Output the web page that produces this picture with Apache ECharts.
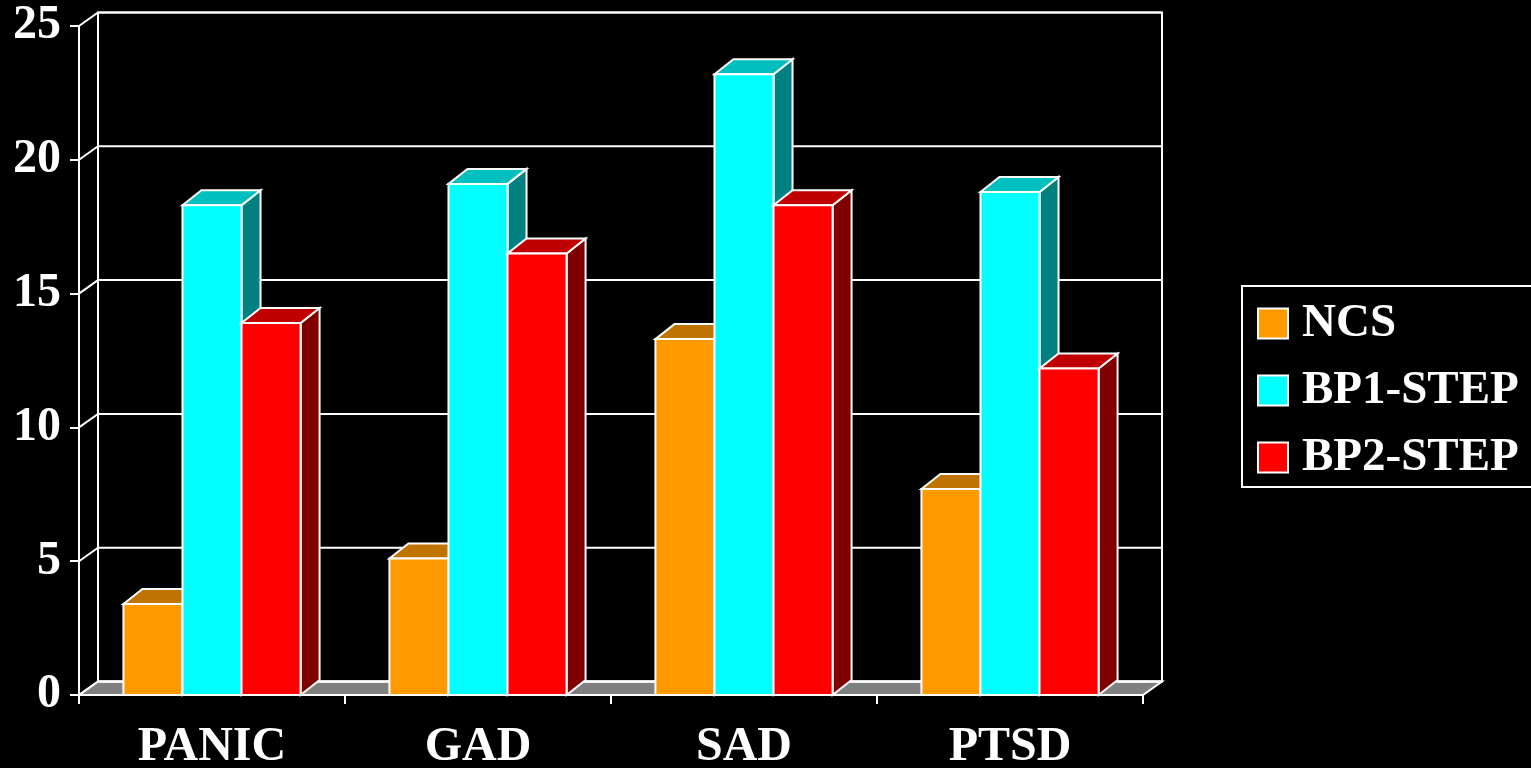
<!DOCTYPE html>
<html>
<head>
<meta charset="utf-8">
<title>Anxiety disorders by group</title>
<script src="https://cdn.jsdelivr.net/npm/echarts@6/dist/echarts.min.js"></script>
<style>
  html, body { margin: 0; padding: 0; background: #000; }
  #chart { width: 1531px; height: 768px; }
</style>
</head>
<body>
<div id="chart"></div>
<script>
// Categories, groups and values (percent)
const categories = ['PANIC', 'GAD', 'SAD', 'PTSD'];
const seriesNames = ['NCS', 'BP1-STEP', 'BP2-STEP'];
const ncs = [3.4, 5.1, 13.3, 7.7];
const bp1 = [18.3, 19.1, 23.2, 18.8];
const bp2 = [13.9, 16.5, 18.3, 12.2];
const yTicks = [0, 5, 10, 15, 20, 25];

// Face colours: front, top, side
const palette = [
  { front: '#FF9900', top: '#BF7300', side: '#804C00' },
  { front: '#00FFFF', top: '#00BFBF', side: '#008080' },
  { front: '#FF0000', top: '#C00000', side: '#800000' }
];

// Pseudo-3D depth offsets
const WALL_DX = 19, WALL_DY = -13.5;
const BAR_DX = 19, BAR_DY = -15;
const BAR_SHARE = 0.222; // width of one bar as a share of a category band

const FONT = 'Liberation Serif';
const edge = { stroke: '#fff', lineWidth: 2, lineJoin: 'miter' };

// Floor, back wall and left-wall gridlines
function renderWalls(params, api) {
  const band = api.size([1, 0])[0];
  const left = api.coord([0, 0])[0] - band / 2;
  const right = api.coord([categories.length - 1, 0])[0] + band / 2;
  const y0 = api.coord([0, yTicks[0]])[1];
  const yTop = api.coord([0, yTicks[yTicks.length - 1]])[1];
  const children = [];
  children.push({
    type: 'polygon',
    shape: { points: [[left, y0], [right, y0], [right + WALL_DX, y0 + WALL_DY], [left + WALL_DX, y0 + WALL_DY]] },
    style: Object.assign({ fill: '#808080' }, edge)
  });
  children.push({
    type: 'rect',
    shape: { x: left + WALL_DX, y: yTop + WALL_DY, width: right - left, height: y0 - yTop },
    style: Object.assign({ fill: 'none' }, edge)
  });
  yTicks.forEach(function (v) {
    const y = api.coord([0, v])[1];
    children.push({
      type: 'polyline',
      shape: { points: [[left, y], [left + WALL_DX, y + WALL_DY], [right + WALL_DX, y + WALL_DY]] },
      style: Object.assign({ fill: 'none' }, edge)
    });
  });
  return { type: 'group', children: children };
}

// One 3D bar: side, top and front faces
function makeBarRenderer(slot) {
  return function (params, api) {
    const cat = api.value(0);
    const val = api.value(1);
    const band = api.size([1, 0])[0];
    const w = band * BAR_SHARE;
    const top = api.coord([cat, val]);
    const base = api.coord([cat, 0]);
    const x0 = top[0] - 1.5 * w + slot * w;
    const x1 = x0 + w;
    const yT = top[1], yB = base[1];
    const c = palette[slot];
    return {
      type: 'group',
      children: [
        {
          type: 'polygon',
          shape: { points: [[x1, yT], [x1 + BAR_DX, yT + BAR_DY], [x1 + BAR_DX, yB + BAR_DY], [x1, yB]] },
          style: Object.assign({ fill: c.side }, edge)
        },
        {
          type: 'polygon',
          shape: { points: [[x0, yT], [x0 + BAR_DX, yT + BAR_DY], [x1 + BAR_DX, yT + BAR_DY], [x1, yT]] },
          style: Object.assign({ fill: c.top }, edge)
        },
        {
          type: 'rect',
          shape: { x: x0, y: yT, width: w, height: yB - yT },
          style: Object.assign({ fill: c.front }, edge)
        }
      ]
    };
  };
}

const values = [ncs, bp1, bp2];
const barSeries = seriesNames.map(function (name, i) {
  return {
    name: name,
    type: 'custom',
    coordinateSystem: 'cartesian2d',
    z: 3 + i,
    itemStyle: { color: palette[i].front },
    renderItem: makeBarRenderer(i),
    encode: { x: 0, y: 1 },
    data: values[i].map(function (v, k) { return [k, v]; })
  };
});

const chart = echarts.init(document.getElementById('chart'));
chart.setOption({
  backgroundColor: '#000',
  animation: false,
  grid: { left: 79, right: 388, top: 26, bottom: 73, containLabel: false, outerBoundsMode: 'none' },
  xAxis: {
    type: 'category',
    data: categories,
    axisLine: { show: true, lineStyle: { color: '#fff', width: 2 } },
    axisTick: { show: true, length: 9, lineStyle: { color: '#fff', width: 2 } },
    axisLabel: {
      color: '#fff', fontFamily: FONT, fontWeight: 'bold', fontSize: 48, margin: 29
    },
    splitLine: { show: false }
  },
  yAxis: {
    type: 'value',
    min: 0, max: 25, interval: 5,
    axisLine: { show: true, lineStyle: { color: '#fff', width: 2 } },
    axisTick: { show: true, length: 9, lineStyle: { color: '#fff', width: 2 } },
    axisLabel: {
      color: '#fff', fontFamily: FONT, fontWeight: 'bold', fontSize: 48, margin: 18,
      padding: [8, 0, 0, 0]
    },
    splitLine: { show: false }
  },
  legend: {
    orient: 'vertical',
    left: 1242,
    top: 286,
    selectedMode: false,
    borderColor: '#fff',
    borderWidth: 2,
    padding: [14, 14, 6, 15],
    itemWidth: 30,
    itemHeight: 30,
    itemGap: 20,
    icon: 'rect',
    textStyle: {
      color: '#fff', fontFamily: FONT, fontWeight: 'bold', fontSize: 47,
      padding: [5, 0, 0, 9]
    },
    data: seriesNames.map(function (name, i) {
      return { name: name, itemStyle: { color: palette[i].front, borderColor: '#fff', borderWidth: 2 } };
    })
  },
  series: [{
    type: 'custom',
    coordinateSystem: 'cartesian2d',
    z: 1,
    silent: true,
    renderItem: renderWalls,
    data: [[0, 0]]
  }].concat(barSeries)
});
</script>
</body>
</html>
